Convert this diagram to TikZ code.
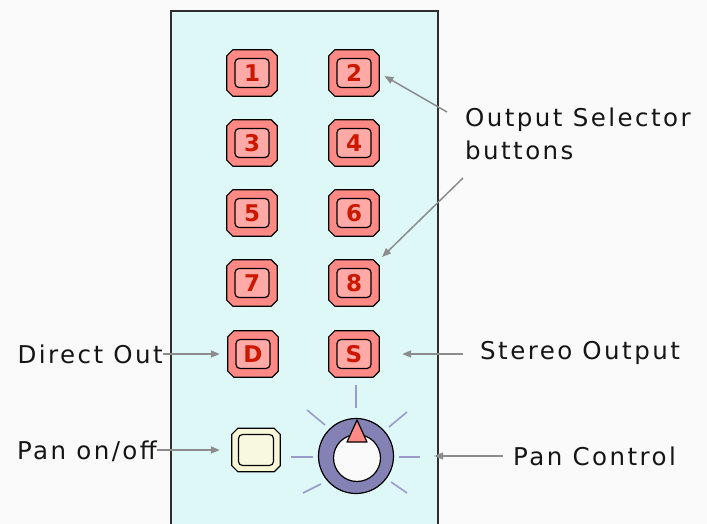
\documentclass[tikz,border=0pt]{standalone}
\usepackage{fontspec}
\setmainfont{DejaVu Sans}[LetterSpace=10]
\newfontfamily\digitfont{DejaVu Sans Bold}
\usetikzlibrary{arrows.meta}

\definecolor{pagebg}{HTML}{FAFAFA}
\definecolor{panelfill}{HTML}{DEF8F8}
\definecolor{panelline}{HTML}{2E2E2E}
\definecolor{btnout}{HTML}{FF8A85}
\definecolor{btnin}{HTML}{FFAAA6}
\definecolor{btntext}{HTML}{CC1800}
\definecolor{panout}{HTML}{F7F6D6}
\definecolor{panin}{HTML}{F8F8E0}
\definecolor{knobring}{HTML}{8482B4}
\definecolor{knobcap}{HTML}{FAFAFA}
\definecolor{tickcol}{HTML}{9C9CCC}
\definecolor{arrowcol}{HTML}{8C8C8C}
\definecolor{labeltext}{HTML}{151515}

\tikzset{
  selbtn/.style={rectangle, minimum width=50pt, minimum height=46pt, inner sep=0pt},
  panbtn/.style={rectangle, minimum width=48pt, minimum height=43pt, inner sep=0pt},
  btnedge/.style={draw=black, line width=1.2pt, line join=round},
  selface/.style={rectangle, rounded corners=4pt, draw=black, line width=1.2pt,
    fill=btnin, minimum width=34pt, minimum height=29pt, inner sep=0pt,
    text=btntext, font=\digitfont\fontsize{23}{23}\selectfont},
  panface/.style={selface, fill=panin, minimum width=35pt, minimum height=31pt},
  callout/.style={inner sep=0pt, text=labeltext,
    font=\fontsize{24.5}{33}\selectfont},
  arr/.style={draw=arrowcol, line width=1.5pt,
    -{Triangle[length=9pt,width=7pt]}},
  tick/.style={draw=tickcol, line width=1.6pt},
}

% chamfered outline around a rectangular node
\newcommand{\chamferbody}[2]{%
  \path[btnedge, fill=#2]
    ([xshift=6pt]#1.north west) -- ([xshift=-6pt]#1.north east)
    -- ([yshift=-6pt]#1.north east) -- ([yshift=6pt]#1.south east)
    -- ([xshift=-6pt]#1.south east) -- ([xshift=6pt]#1.south west)
    -- ([yshift=6pt]#1.south west) -- ([yshift=-6pt]#1.north west) -- cycle;
}

% one selector button: chamfered body plus inner rounded face
\newcommand{\selbutton}[3]{%
  \node[selbtn] (b#1) at (#2,#3) {};
  \chamferbody{b#1}{btnout}
  \node[selface] (b#1f) at (b#1) {#1};
}

\begin{document}
\begin{tikzpicture}[x=1pt,y=-1pt]
  \useasboundingbox (0,0) rectangle (707,524);
  \fill[pagebg] (0,0) rectangle (707,524);

  % channel strip panel
  \fill[panelfill] (171,11) rectangle (438,524);
  \draw[panelline, line width=2pt] (171,524) -- (171,11) -- (438,11) -- (438,524);

  % output selector buttons
  \selbutton{1}{252}{73}
  \selbutton{2}{354}{73}
  \selbutton{3}{252}{143}
  \selbutton{4}{354}{143}
  \selbutton{5}{252}{213}
  \selbutton{6}{354}{213}
  \selbutton{7}{252}{283}
  \selbutton{8}{354}{283}
  \selbutton{D}{253}{354}
  \selbutton{S}{354}{354}

  % pan on/off switch
  \node[panbtn] (pan) at (256,450) {};
  \chamferbody{pan}{panout}
  \node[panface] (panf) at (pan) {};

  % pan knob scale ticks
  \draw[tick] (356,385) -- (356,408);
  \draw[tick] (291,457) -- (313,457);
  \draw[tick] (399,457) -- (420,457);
  \draw[tick] (307,410) -- (325,425);
  \draw[tick] (389,427) -- (407,412);
  \draw[tick] (303,493) -- (321,484);
  \draw[tick] (391,482) -- (407,493);

  % pan knob
  \node[circle, draw=black, line width=1.2pt, fill=knobring,
        minimum size=75pt, inner sep=0pt] (knob) at (356,456) {};
  \node[circle, draw=black, line width=1.2pt, fill=knobcap,
        minimum size=47pt, inner sep=0pt] (knobcap) at (357,458) {};
  \draw[black, line width=1.2pt, line join=round, fill=btnout]
    (357,420) -- (367,442) -- (347,442) -- cycle;

  % callout labels
  \node[callout, anchor=base west] (lsel1) at (465,127) {Output Selector};
  \node[callout, anchor=base west] (lsel2) at (465,160) {buttons};
  \node[callout, anchor=base east] (ldirect) at (163,363) {Direct Out};
  \node[callout, anchor=base east] (lpan) at (157,459) {Pan on/off};
  \node[callout, anchor=base west] (lstereo) at (480,359) {Stereo Output};
  \node[callout, anchor=base west] (lpanctl) at (513,465) {Pan Control};

  % callout arrows
  \coordinate (sel1start) at (447,112);
  \coordinate (sel2start) at (463,178);
  \draw[arr, shorten >=6pt] (sel1start) -- (b2.east);
  \draw[arr, shorten >=4pt] (sel2start) -- (b8.north east);
  \draw[arr, shorten >=8pt] (ldirect.east |- bD.west) -- (bD.west);
  \draw[arr, shorten >=12pt] (lpan.east |- pan.west) -- (pan.west);
  \draw[arr, shorten <=17pt, shorten >=23pt] (lstereo.west |- bS.east) -- (bS.east);
  \draw[arr, shorten <=10pt, shorten >=40pt] (lpanctl.west |- knob.east) -- (knob.east);
\end{tikzpicture}
\end{document}
